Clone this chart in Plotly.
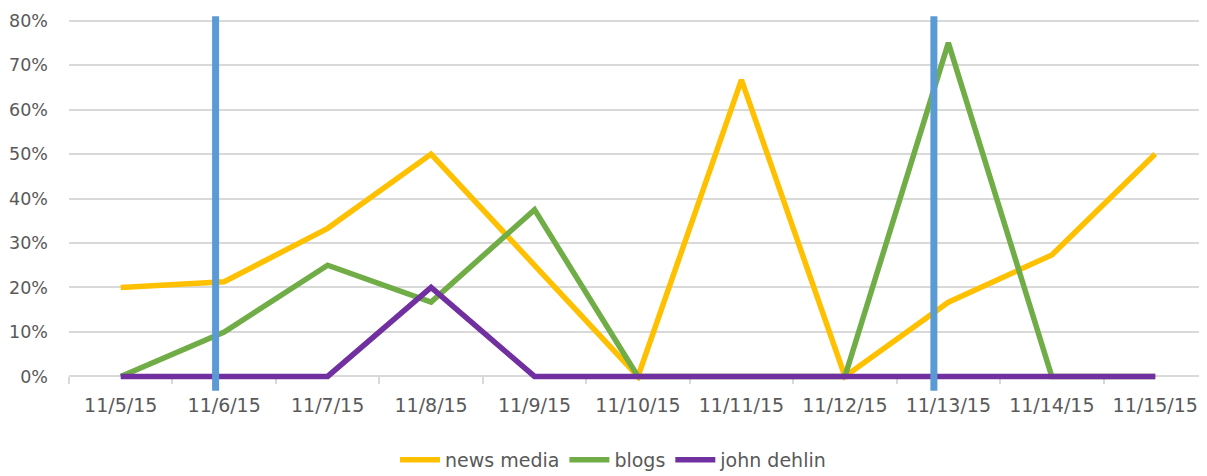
import plotly.graph_objects as go

# Share of coverage per day
dates = ['11/5/15', '11/6/15', '11/7/15', '11/8/15', '11/9/15', '11/10/15',
         '11/11/15', '11/12/15', '11/13/15', '11/14/15', '11/15/15']
news_media = [0.20, 0.213, 0.333, 0.50, 0.25, 0.0, 0.667, 0.0, 0.167, 0.273, 0.50]
blogs = [0.0, 0.10, 0.25, 0.167, 0.375, 0.0, 0.0, 0.0, 0.75, 0.0, 0.0]
john_dehlin = [0.0, 0.0, 0.0, 0.20, 0.0, 0.0, 0.0, 0.0, 0.0, 0.0, 0.0]

# event markers (category index positions) and their extent
event_x = [0.917, 7.86]
event_y0 = -0.032
event_y1 = 0.81

y_ticks = [0, 0.1, 0.2, 0.3, 0.4, 0.5, 0.6, 0.7, 0.8]
y_range = [-0.035, 0.815]

text_color = '#595959'
grid_color = '#D9D9D9'
font_family = 'DejaVu Sans, Open Sans, sans-serif'

# page body has an 8px default margin, so the figure is shrunk to fit the window
W, H = 1199, 468

fig = go.Figure()

series = [
    ('news media', news_media, '#FFC000'),
    ('blogs', blogs, '#70AD47'),
    ('john dehlin', john_dehlin, '#7030A0'),
]
for name, vals, color in series:
    fig.add_trace(go.Scatter(
        x=dates, y=vals, name=name, mode='lines',
        line=dict(color=color, width=5.5, shape='linear'),
    ))

for ex in event_x:
    fig.add_shape(type='line', xref='x', yref='y',
                  x0=ex, x1=ex, y0=event_y0, y1=event_y1,
                  line=dict(color='#5B9BD5', width=7), layer='above')

# x axis sits at the 0% value rather than the bottom of the plot area
axis_pos = (0 - y_range[0]) / (y_range[1] - y_range[0])

fig.update_layout(
    width=W, height=H,
    paper_bgcolor='white', plot_bgcolor='white',
    margin=dict(l=61, r=0, t=6, b=84, autoexpand=False),
    font=dict(family=font_family, size=19, color=text_color),
    showlegend=True,
    legend=dict(orientation='h', xref='container', yref='container',
                x=0.505, xanchor='center', y=(H - 452) / H, yanchor='middle',
                font=dict(size=19, color=text_color),
                itemwidth=40),
)

fig.update_xaxes(
    type='category', range=[-0.5, 10.5], automargin=False,
    showgrid=False, showline=True, linecolor=grid_color, linewidth=1.5,
    ticks='outside', tickson='boundaries', ticklen=7, tickcolor=grid_color,
    tickwidth=1.5, anchor='free', position=axis_pos, layer='below traces',
    tickfont=dict(size=19, color=text_color), ticklabelstandoff=12,
)
fig.update_yaxes(
    range=y_range, tickvals=y_ticks, tickformat='.0%', automargin=False,
    showgrid=True, gridcolor=grid_color, gridwidth=1.5,
    zeroline=False, showline=False, ticks='', layer='below traces',
    tickfont=dict(size=17.5, color=text_color), ticklabelstandoff=20,
)

fig.write_html('out.html')
